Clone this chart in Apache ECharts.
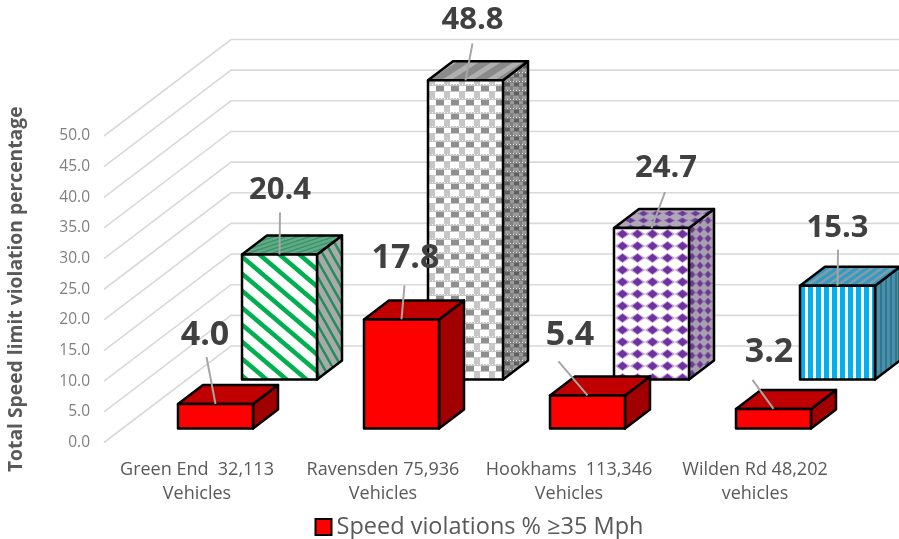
<!DOCTYPE html>
<html><head><meta charset="utf-8">
<style>html,body{margin:0;padding:0;background:#fff}#c{width:899px;height:539px}</style>
<script src="https://cdn.jsdelivr.net/npm/echarts@6/dist/echarts.min.js"></script>
</head><body><div id="c"></div>
<script>
const categories = ['Green End  32,113\nVehicles','Ravensden 75,936\nVehicles','Hookhams  113,346\nVehicles','Wilden Rd 48,202\nvehicles'];
const speedViolations = [4.0, 17.8, 5.4, 3.2];
const totalViolations = [20.4, 48.8, 24.7, 15.3];
const gridValues = [0,5,10,15,20,25,30,35,40,45,50];
const legendName = 'Speed violations % \u226535 Mph';
const yTitle = 'Total Speed limit violation percentage';
// label placement relative to the top-front centre of each box: [labelDx,labelDy,leaderDx,leaderDy]
const frontLabelPos = [[-10.5,-69,-9,-47],[4,-61,3,-34],[-17.5,-60,-29,-34],[-4.5,-57,-21,-29]];
const backLabelPos = [[0.5,-64,0.5,-42],[7,-60,7,-37],[14.5,-60,13.5,-36],[0,-58,0.5,-36]];

function tile(w,h,draw){const c=document.createElement('canvas');c.width=w;c.height=h;const g=c.getContext('2d');draw(g,w,h);return {image:c,repeat:'repeat'};}
function diag(bg,fg,w,h,lw,dir){return tile(w,h,(g)=>{g.fillStyle=bg;g.fillRect(0,0,w,h);g.strokeStyle=fg;g.lineWidth=lw;g.lineCap='square';
  for(let k=-2;k<=2;k++){g.beginPath();
    if(dir>0){g.moveTo(k*w-w,-h);g.lineTo(k*w+2*w,2*h);}else{g.moveTo(k*w+2*w,-h);g.lineTo(k*w-w,2*h);}
    g.stroke();}});}
function vert(bg,fg,w,sw){return tile(w,4,(g)=>{g.fillStyle=bg;g.fillRect(0,0,w,4);g.fillStyle=fg;g.fillRect(0,0,sw,4);});}
function plaid(bg,fg,mid,w,h){return tile(w,h,(g)=>{g.fillStyle=bg;g.fillRect(0,0,w,h);
  const hh=Math.round(h/2), hw=Math.round(w/2);
  g.fillStyle=mid;g.fillRect(0,0,w,2);g.fillRect(0,hh,w,1);
  g.fillStyle=fg;g.fillRect(1,2,hw,hh-2);
  g.fillStyle=mid;g.fillRect(hw+1,hh+1,hw-1,h-hh-1);
  g.fillStyle='rgba(255,255,255,.85)';for(let x=0;x<w;x+=3){g.fillRect(x,0,1,1);}});}
function dots(bg,halo,fg,w,h,rx,ry){return tile(w,h,(g)=>{g.fillStyle=bg;g.fillRect(0,0,w,h);
  const d=(a,b,col)=>{g.fillStyle=col;g.beginPath();g.moveTo(w/2-a,h/2);g.lineTo(w/2,h/2-b);g.lineTo(w/2+a,h/2);g.lineTo(w/2,h/2+b);g.closePath();g.fill();};
  d(rx,ry,halo);d(rx*0.65,ry*0.85,fg);});}

const redStyle = {front:'#ff0000', top:'#c00000', side:'#a00000'};
const backStyles = [
 {front:diag('#ffffff','#00b050',20,17,4.5,1), side:diag('#a9a9a9','#1f8f5c',9,16,2.5,1), top:diag('#6aa68a','#2f9a68',12,4,1.6,-1)},
 {front:plaid('#ffffff','#8f8f8f','#c6c6c6',15,14), side:plaid('#9a9a9a','#5f5f5f','#808080',9,9), top:diag('#8a8a8a','#b0b0b0',22,14,5,-1)},
 {front:dots('#ffffff','#c9a8de','#7030a0',15,12,8,5), side:dots('#a8a0ae','#8a6aa4','#6a3a92',8,9,4,4), top:dots('#b0a8b8','#8f70aa','#6c3a9a',13,7,6,3)},
 {front:vert('#ffffff','#00b0f0',8.6,5), side:vert('#4b8fa8','#2f7790',5,2), top:diag('#8a9aa4','#2f9cc4',10,7,3.2,-1)}
];
const boxWidth = 75, depthX = 25, depthY = 19;
const frontOffset = [18.5,-14], backOffset = [82.5,-63];

function boxRenderer(offset, stylesFor, labelPos, labelSize){
  return function(params, api){
    const i = params.dataIndex, v = api.value(1);
    const c0 = api.coord([api.value(0),0]), c1 = api.coord([api.value(0),v]);
    const x0 = c0[0]+offset[0]-boxWidth/2, x1 = x0+boxWidth;
    const yb = c0[1]+offset[1], yt = c1[1]+offset[1];
    const st = stylesFor(i), lp = labelPos[i], cx=(x0+x1)/2;
    const stroke = {stroke:'#000',lineWidth:2.5,lineJoin:'round'};
    return {type:'group',children:[
      {type:'polygon',shape:{points:[[x1,yt],[x1+depthX,yt-depthY],[x1+depthX,yb-depthY],[x1,yb]]},style:Object.assign({fill:st.side},stroke)},
      {type:'polygon',shape:{points:[[x0,yt],[x0+depthX,yt-depthY],[x1+depthX,yt-depthY],[x1,yt]]},style:Object.assign({fill:st.top},stroke)},
      {type:'polygon',shape:{points:[[x0,yt],[x1,yt],[x1,yb],[x0,yb]]},style:Object.assign({fill:st.front},stroke)},
      {type:'line',shape:{x1:cx+lp[2],y1:yt+lp[3],x2:cx,y2:yt},style:{stroke:'#a6a6a6',lineWidth:2}},
      {type:'text',x:cx+lp[0],y:yt+lp[1],style:{text:v.toFixed(1),fill:'#404040',font:'bold '+labelSize+'px "Open Sans"',align:'center',verticalAlign:'middle'}}
    ]};
  };
}
const chart = echarts.init(document.getElementById('c'),null,{renderer:'canvas'});
chart.setOption({
  animation:false,
  backgroundColor:'#fff',
  grid:{left:104,width:744,top:136,height:306.5,outerBoundsMode:'none'},
  xAxis:{type:'category',data:categories,axisLine:{show:false},axisTick:{show:false},splitLine:{show:false},
    axisLabel:{interval:0,color:'#595959',fontFamily:'Open Sans',fontSize:18,lineHeight:24,margin:15.5}},
  yAxis:{type:'value',min:0,max:50,interval:5,axisLine:{show:false},axisTick:{show:false},splitLine:{show:false},
    axisLabel:{formatter:(v)=>v.toFixed(1),color:'#7f7f7f',fontFamily:'Open Sans',fontSize:15.5,margin:14,padding:[5,0,0,0]},
    name:yTitle,nameLocation:'middle',nameGap:78,nameTextStyle:{color:'#595959',fontFamily:'Open Sans',fontWeight:'bold',fontSize:19.3}},
  legend:{data:[{name:legendName,icon:'rect',itemStyle:{color:'#ff0000',borderColor:'#000',borderWidth:2}}],
    left:309.5,top:510,itemWidth:16,itemHeight:16,textStyle:{color:'#595959',fontFamily:'Open Sans',fontSize:23.5},selectedMode:false},
  series:[
    {type:'custom',name:'gridlines',silent:true,clip:false,z:1,data:gridValues.map(v=>[0,v]),
     renderItem:(p,api)=>{const c=api.coord([0,api.value(1)]);const left=c[0]-api.size([1,0])[0]/2;
       return {type:'polyline',shape:{points:[[left,c[1]],[left+127,c[1]-96.5],[899,c[1]-96.5]]},style:{stroke:'#d9d9d9',lineWidth:1.6,fill:null}};}},
    {type:'custom',name:'Total',silent:true,clip:false,z:2,data:totalViolations.map((v,i)=>[i,v]),
     renderItem:boxRenderer(backOffset,i=>backStyles[i],backLabelPos,31)},
    {type:'custom',name:legendName,silent:true,clip:false,z:3,data:speedViolations.map((v,i)=>[i,v]),
     renderItem:boxRenderer(frontOffset,()=>redStyle,frontLabelPos,34)}
  ]
});
</script></body></html>
